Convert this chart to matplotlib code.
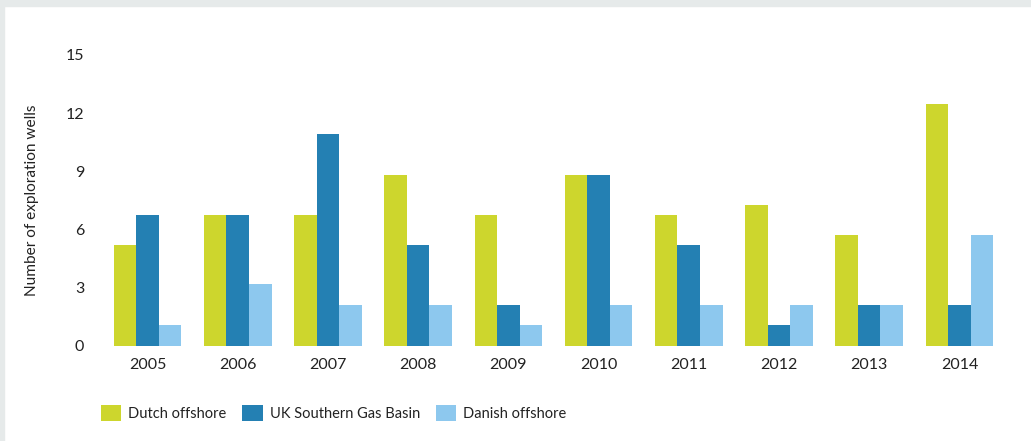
import matplotlib
matplotlib.use("Agg")
import matplotlib.pyplot as plt
from matplotlib.patches import Rectangle
import numpy as np

# Exploration wells per year by area
years = ["2005", "2006", "2007", "2008", "2009", "2010", "2011", "2012", "2013", "2014"]
dutch = [5.2, 6.75, 6.75, 8.8, 6.75, 8.8, 6.75, 7.25, 5.7, 12.45]
uk_sgb = [6.75, 6.75, 10.9, 5.2, 2.1, 8.8, 5.2, 1.05, 2.1, 2.1]
danish = [1.05, 3.15, 2.1, 2.1, 1.05, 2.1, 2.1, 2.1, 2.1, 5.7]
series_names = ["Dutch offshore", "UK Southern Gas Basin", "Danish offshore"]
y_ticks = [0, 3, 6, 9, 12, 15]

colors = ["#CDD62D", "#2480B3", "#8DC8EE"]

plt.rcParams["font.family"] = ["Lato", "DejaVu Sans"]

W, H = 1031, 441
fig = plt.figure(figsize=(W / 100, H / 100), dpi=100)
fig.patch.set_facecolor("white")

# page frame strips
fig.patches.append(Rectangle((0, 1 - 6 / H), 1, 6 / H, transform=fig.transFigure,
                             color="#E6EAEA", zorder=0))
fig.patches.append(Rectangle((0, 0), 4 / W, 1, transform=fig.transFigure,
                             color="#E6EAEA", zorder=0))

left, right = 102.4, 1004.5
top_px, bot_px = 55, 345.5
ax = fig.add_axes([left / W, 1 - bot_px / H, (right - left) / W, (bot_px - top_px) / H])

x = np.arange(len(years))
bw = 0.25
for i, (vals, name, c) in enumerate(zip([dutch, uk_sgb, danish], series_names, colors)):
    ax.bar(x + (i - 1) * bw, vals, width=bw, color=c, label=name, linewidth=0)

ax.set_xlim(-0.5, len(years) - 0.5)
ax.set_ylim(0, 15)
ax.set_yticks(y_ticks)
ax.set_yticklabels([str(t) for t in y_ticks])
ax.set_xticks(x)
ax.set_xticklabels(years)
ax.tick_params(axis="both", length=0, labelsize=11.5, colors="#222222")
ax.tick_params(axis="y", pad=13)
ax.tick_params(axis="x", pad=9)
for s in ax.spines.values():
    s.set_visible(False)

ax.set_ylabel("Number of exploration wells", fontsize=11.1, color="#222222", labelpad=19.5)

handles, labels = ax.get_legend_handles_labels()
leg = fig.legend(handles, labels, loc="center left", bbox_to_anchor=(101 / W, 1 - 413 / H),
                 ncol=3, frameon=False, fontsize=10.5, borderpad=0, borderaxespad=0,
                 handlelength=1.38, handleheight=1.38,
                 handletextpad=0.48, columnspacing=1.1, labelcolor="#222222")

fig.savefig("out.png", dpi=100, facecolor="white")
